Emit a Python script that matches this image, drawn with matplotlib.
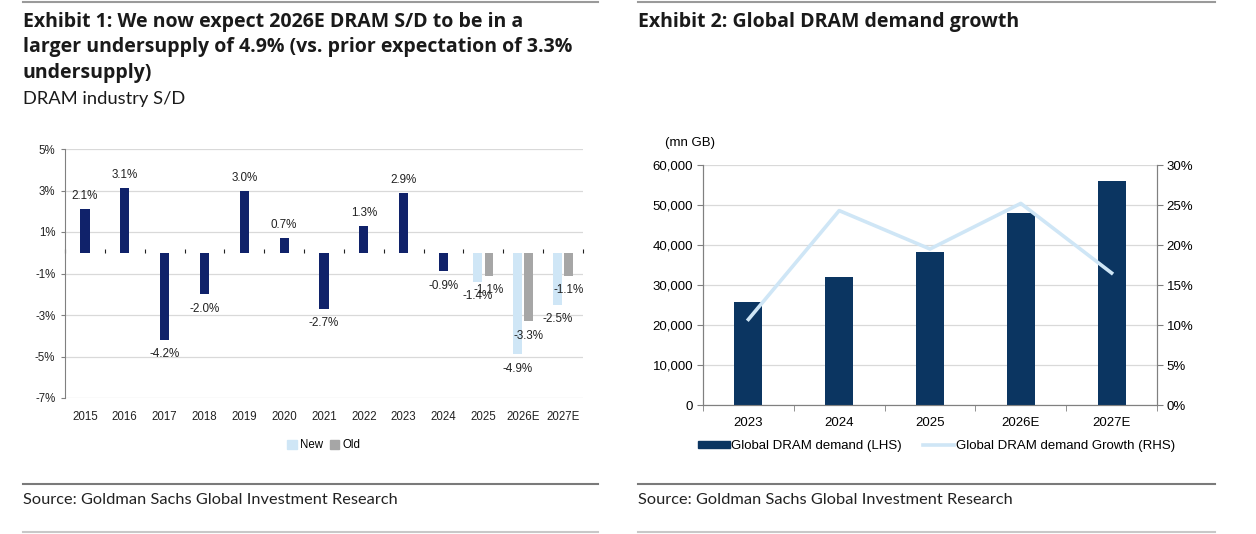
import numpy as np
import matplotlib.pyplot as plt
from matplotlib.lines import Line2D
from matplotlib.patches import Patch
from matplotlib.ticker import FuncFormatter, MultipleLocator

# Exhibit 1: DRAM industry S/D
years_sd = ["2015", "2016", "2017", "2018", "2019", "2020", "2021",
            "2022", "2023", "2024", "2025", "2026E", "2027E"]
sd_actual = [2.1, 3.1, -4.2, -2.0, 3.0, 0.7, -2.7, 1.3, 2.9, -0.9]
sd_new = [-1.4, -4.9, -2.5]
sd_old = [-1.1, -3.3, -1.1]

# Exhibit 2: Global DRAM demand
years_dem = ["2023", "2024", "2025", "2026E", "2027E"]
demand = [25800, 32100, 38300, 48000, 56000]
growth = [10.7, 24.3, 19.5, 25.2, 16.5]

NAVY1 = "#10226a"
NAVY2 = "#0b3561"
LIGHT = "#cfe6f6"
GREY = "#a6a6a6"
GRID = "#d9d9d9"
AXIS = "#808080"

W, H = 1256, 534
TITLE_FONT = ["Open Sans", "DejaVu Sans"]
TEXT_FONT = ["Lato", "DejaVu Sans"]
CHART_FONT = ["Liberation Sans", "DejaVu Sans"]

plt.rcParams["font.family"] = CHART_FONT


def fx(x):
    return x / W


def fy(y):
    return 1 - y / H


def box(x0, y0, x1, y1):
    return [fx(x0), fy(y1), fx(x1) - fx(x0), fy(y0) - fy(y1)]


fig = plt.figure(figsize=(W / 100, H / 100), dpi=100)

# ---------- Exhibit 1 ----------
ax1 = fig.add_axes(box(65, 149, 583, 398))
x = np.arange(len(years_sd))
n_act = len(sd_actual)
xa = x[:n_act]
xe = x[n_act:]

ax1.bar(xa, sd_actual, width=0.23, color=NAVY1, zorder=3)
ax1.bar(xe - 0.14, sd_new, width=0.22, color=LIGHT, zorder=3, label="New")
ax1.bar(xe + 0.14, sd_old, width=0.22, color=GREY, zorder=3, label="Old")


def label_bars(xs, vals):
    for xi, v in zip(xs, vals):
        off = 5 if v >= 0 else -6
        ax1.annotate(f"{v:.1f}%", (xi, v), xytext=(0, off), textcoords="offset points",
                     ha="center", va="bottom" if v >= 0 else "top",
                     fontsize=8.4, color="#222222", zorder=5)


label_bars(xa, sd_actual)
label_bars(xe - 0.14, sd_new)
label_bars(xe + 0.14, sd_old)

ax1.set_xlim(-0.5, len(years_sd) - 0.5)
ax1.set_ylim(-7, 5)
ax1.set_yticks([5, 3, 1, -1, -3, -5, -7])
ax1.yaxis.set_major_formatter(FuncFormatter(lambda v, p: f"{v:.0f}%"))
ax1.set_xticks(x)
ax1.set_xticklabels(years_sd)
ax1.tick_params(axis="x", length=0, pad=9, labelsize=8.3, labelcolor="#222222")
ax1.tick_params(axis="y", length=3, color=AXIS, labelsize=8.3, labelcolor="#222222", pad=4)
ax1.grid(axis="y", color=GRID, linewidth=0.9, zorder=0)
for s in ["top", "right", "bottom"]:
    ax1.spines[s].set_visible(False)
ax1.spines["left"].set_color(AXIS)

# zero line with category-boundary ticks
zero = ax1.secondary_xaxis(7 / 12)
zero.set_xticks(np.arange(-0.5, len(years_sd), 1.0))
zero.set_xticklabels([])
zero.tick_params(length=3, color="#222222", direction="out")
zero.spines["bottom"].set_color("#222222")
zero.spines["bottom"].set_linewidth(1.0)
zero.spines["top"].set_visible(False)

ax1.legend(handles=[Patch(color=LIGHT, label="New"), Patch(color=GREY, label="Old")],
           loc="center", bbox_to_anchor=(0.5, -0.19), ncol=2, frameon=False,
           fontsize=8.3, handlelength=0.8, handleheight=0.8, handletextpad=0.3,
           columnspacing=0.6)

# ---------- Exhibit 2 ----------
ax2 = fig.add_axes(box(703, 165, 1157, 405))
xd = np.arange(len(years_dem))
ax2.bar(xd, demand, width=0.31, color=NAVY2, zorder=3)
ax2.set_xlim(-0.5, len(years_dem) - 0.5)
ax2.set_ylim(0, 60000)
ax2.yaxis.set_major_locator(MultipleLocator(10000))
ax2.yaxis.set_major_formatter(FuncFormatter(lambda v, p: f"{v:,.0f}"))
ax2.set_xticks(xd)
ax2.set_xticklabels(years_dem)
ax2.set_xticks(np.arange(-0.5, len(years_dem), 1.0), minor=True)
ax2.tick_params(axis="x", which="major", length=0, pad=9, labelsize=9.5)
ax2.tick_params(axis="x", which="minor", length=4, color=AXIS)
ax2.tick_params(axis="y", length=4, color=AXIS, labelsize=9.5, pad=3)
ax2.grid(axis="y", color=GRID, linewidth=0.9, zorder=0)
ax2.spines["top"].set_visible(False)
for s in ["left", "bottom", "right"]:
    ax2.spines[s].set_color(AXIS)

ax2r = ax2.twinx()
ax2r.plot(xd, growth, color=LIGHT, linewidth=2.6, zorder=4)
ax2r.set_ylim(0, 30)
ax2r.yaxis.set_major_locator(MultipleLocator(5))
ax2r.yaxis.set_major_formatter(FuncFormatter(lambda v, p: f"{v:.0f}%"))
ax2r.tick_params(axis="y", length=4, color=AXIS, labelsize=9.5, pad=3)
ax2r.spines["top"].set_visible(False)
for s in ["left", "bottom", "right"]:
    ax2r.spines[s].set_color(AXIS)

fig.text(fx(665), fy(143), "(mn GB)", fontsize=9.5, va="center", ha="left")

fig.legend(handles=[Patch(color=NAVY2, label="Global DRAM demand (LHS)"),
                    Line2D([0], [0], color=LIGHT, linewidth=2.6,
                           label="Global DRAM demand Growth (RHS)")],
           loc="center left", bbox_to_anchor=(fx(686), fy(446)), ncol=2, frameon=False,
           fontsize=9.5, handlelength=2.4, handleheight=0.5, handletextpad=0.1,
           columnspacing=1.6)

# ---------- titles, rules and sources ----------
title_kw = dict(family=TITLE_FONT, fontweight="bold", fontsize=14, color="#1a1a1a",
                va="center", ha="left")
fig.text(fx(23), fy(22), "Exhibit 1: We now expect 2026E DRAM S/D to be in a", **title_kw)
fig.text(fx(23), fy(47), "larger undersupply of 4.9% (vs. prior expectation of 3.3%", **title_kw)
fig.text(fx(23), fy(73), "undersupply)", **title_kw)
fig.text(fx(23), fy(99), "DRAM industry S/D", family=TEXT_FONT, fontsize=13.2,
         color="#1a1a1a", va="center", ha="left")
fig.text(fx(638), fy(22), "Exhibit 2: Global DRAM demand growth", **title_kw)

src_kw = dict(family=TEXT_FONT, fontsize=11.8, color="#222222", va="center", ha="left")
fig.text(fx(23), fy(500), "Source: Goldman Sachs Global Investment Research", **src_kw)
fig.text(fx(638), fy(500), "Source: Goldman Sachs Global Investment Research", **src_kw)

for x0, x1 in [(23, 598), (638, 1215)]:
    fig.add_artist(Line2D([fx(x0), fx(x1)], [fy(2), fy(2)], color="#9a9a9a", linewidth=1.5))
    fig.add_artist(Line2D([fx(x0), fx(x1)], [fy(484), fy(484)], color="#7a7a7a", linewidth=1.5))
    fig.add_artist(Line2D([fx(x0), fx(x1)], [fy(532), fy(532)], color="#c8c8c8", linewidth=1.5))

fig.savefig("out.png", dpi=100)
